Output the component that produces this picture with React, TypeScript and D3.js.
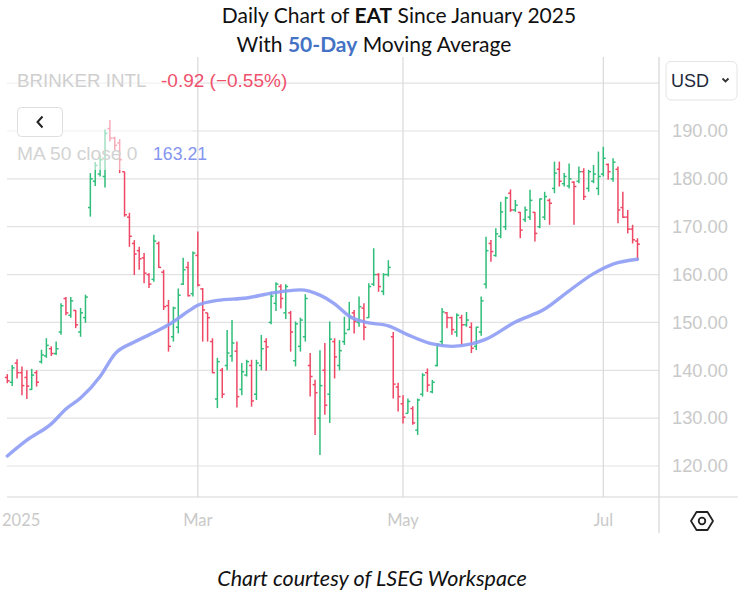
import React from 'react';
import * as d3 from 'd3';

// ---- trading calendar (x categories) ----
const firstDay = '2025-01-02';
const lastDay = '2025-07-11';
const holidays = ['2025-01-09', '2025-01-20', '2025-02-17', '2025-04-18', '2025-05-26', '2025-06-19', '2025-07-04'];
const fmt = d3.utcFormat('%Y-%m-%d');
const dates: string[] = d3.utcDay
  .range(new Date(firstDay + 'T00:00:00Z'), d3.utcDay.offset(new Date(lastDay + 'T00:00:00Z'), 1))
  .filter((d) => d.getUTCDay() !== 0 && d.getUTCDay() !== 6 && !holidays.includes(fmt(d)))
  .map(fmt);

// ---- OHLC series ----
const open = [
  138.5, 137.5, 141.5, 139.5, 138.5, 136.0, 139.5, 141.8, 143.0, 144.5,
  143.5, 148.0, 155.0, 151.5, 152.5, 148.0, 151.0, 174.0, 179.5, 181.0,
  180.5, 190.5, 188.5, 187.5, 181.5, 172.0, 166.5, 165.0, 163.5, 160.0,
  159.0, 166.5, 160.5, 153.5, 147.0, 149.0, 158.0, 161.5, 156.0, 164.0,
  157.0, 152.0, 146.0, 134.0, 140.0, 141.0, 143.0, 144.0, 136.0, 139.0,
  141.0, 135.0, 141.0, 146.0, 150.0, 154.0, 157.5, 152.0, 152.0, 142.0,
  145.0, 147.0, 141.0, 137.0, 130.0, 140.0, 135.0, 146.0, 141.0, 146.0,
  148.5, 152.0, 150.0, 153.0, 151.0, 158.0, 160.0, 156.5, 160.0, 147.0,
  136.5, 133.0, 131.0, 132.0, 127.5, 135.0, 139.5, 135.5, 141.0, 146.0,
  152.0, 151.0, 148.0, 151.0, 149.5, 149.0, 145.0, 148.0, 158.0, 166.5,
  164.0, 168.0, 170.0, 177.0, 173.5, 173.0, 171.5, 172.0, 173.0, 170.0,
  172.0, 175.5, 178.0, 182.0, 179.0, 178.5, 179.3, 179.5, 181.5, 178.0,
  179.5, 178.0, 181.0, 183.0, 180.0, 182.0, 174.0, 172.0, 169.5, 167.0,
];
const high = [
  139.2, 141.1, 142.3, 140.8, 140.0, 140.3, 140.0, 144.3, 146.7, 145.0,
  146.0, 154.0, 155.3, 155.3, 152.6, 153.0, 155.8, 181.2, 183.5, 185.0,
  190.3, 192.3, 188.8, 188.3, 181.5, 172.9, 167.2, 165.8, 164.5, 160.3,
  168.3, 166.9, 161.0, 154.7, 153.3, 157.1, 163.5, 162.7, 164.8, 169.0,
  157.2, 152.0, 146.7, 142.6, 140.5, 148.4, 150.5, 146.0, 141.5, 142.2,
  142.2, 142.2, 147.4, 146.7, 156.4, 158.4, 158.0, 158.0, 152.4, 150.2,
  151.0, 155.9, 143.6, 138.0, 144.2, 145.7, 150.2, 146.7, 146.3, 151.2,
  154.3, 152.6, 155.4, 154.0, 158.2, 165.5, 160.3, 160.3, 163.0, 148.0,
  137.4, 134.8, 134.1, 132.5, 134.1, 139.4, 140.4, 138.0, 145.6, 153.0,
  152.2, 151.2, 151.9, 151.6, 152.2, 150.0, 149.1, 155.4, 167.9, 167.2,
  169.7, 175.2, 176.3, 177.8, 175.6, 173.1, 174.2, 177.7, 173.1, 175.9,
  177.3, 175.9, 183.6, 183.6, 181.2, 183.2, 179.5, 182.6, 182.2, 181.9,
  182.9, 185.7, 186.7, 183.2, 184.3, 182.6, 177.3, 173.5, 170.4, 167.6,
];
const low = [
  137.3, 136.7, 138.3, 134.8, 134.0, 135.9, 136.6, 141.4, 142.6, 143.0,
  143.2, 147.4, 151.5, 151.0, 148.8, 147.0, 149.9, 172.1, 178.5, 180.5,
  178.2, 187.8, 186.0, 181.2, 172.1, 165.8, 159.9, 161.0, 158.2, 157.2,
  158.5, 161.4, 152.6, 143.9, 146.0, 147.7, 157.8, 155.4, 155.4, 157.5,
  146.0, 146.0, 139.4, 132.1, 134.2, 140.0, 141.8, 132.2, 134.8, 138.7,
  132.4, 133.8, 140.0, 139.9, 149.6, 152.4, 152.9, 150.7, 143.9, 140.8,
  143.9, 146.0, 134.5, 126.5, 122.3, 130.7, 129.0, 138.3, 140.0, 145.3,
  148.4, 147.7, 149.1, 146.3, 150.9, 157.6, 156.4, 155.7, 159.6, 134.1,
  131.4, 128.9, 131.0, 128.6, 126.5, 134.5, 135.5, 135.2, 140.8, 145.3,
  148.8, 147.4, 147.0, 145.3, 149.1, 143.6, 144.2, 147.2, 157.1, 162.7,
  163.7, 167.6, 169.3, 173.1, 173.1, 167.6, 171.0, 171.4, 166.9, 169.7,
  171.4, 170.4, 177.0, 178.4, 178.4, 178.0, 170.4, 179.1, 175.6, 177.3,
  179.1, 176.6, 180.5, 179.8, 179.4, 170.7, 171.8, 168.6, 166.5, 163.0,
];
const close = [
  137.8, 140.5, 139.5, 136.8, 136.7, 139.0, 137.5, 143.2, 145.2, 143.5,
  144.5, 153.5, 152.0, 154.5, 149.5, 152.0, 155.3, 180.0, 182.8, 184.0,
  189.5, 188.5, 187.0, 184.0, 172.5, 168.0, 164.3, 163.3, 160.3, 158.0,
  167.0, 161.5, 153.3, 145.0, 153.0, 155.7, 161.0, 155.6, 164.5, 157.8,
  152.6, 151.0, 139.5, 141.8, 135.0, 143.6, 145.7, 134.5, 139.7, 141.8,
  133.6, 141.5, 144.5, 144.9, 155.5, 158.0, 155.0, 157.5, 148.0, 149.7,
  150.5, 155.0, 138.7, 135.3, 136.8, 132.7, 146.5, 142.8, 144.1, 147.7,
  151.2, 150.2, 153.3, 149.0, 157.5, 160.0, 157.5, 160.0, 161.5, 137.1,
  134.5, 130.2, 133.5, 129.0, 133.8, 139.0, 136.9, 137.5, 145.4, 152.2,
  151.0, 148.5, 151.5, 149.5, 150.5, 144.6, 149.0, 154.5, 165.0, 164.8,
  168.5, 173.1, 176.0, 173.5, 174.5, 169.3, 173.5, 175.5, 168.6, 175.8,
  176.3, 174.9, 181.2, 179.5, 180.5, 180.0, 178.4, 181.5, 176.3, 181.5,
  181.0, 180.5, 184.3, 181.5, 183.5, 173.5, 172.0, 169.5, 167.27, 166.35,
];

// ---- 50-day moving average, sampled at bar indices ----
const maIdx = [0, 4, 9, 12, 15, 19, 22, 26, 29, 33, 36, 39, 43, 49, 54, 60, 64, 67, 70, 73, 78, 82, 87, 91, 95, 98, 104, 110, 115, 120, 124, 129];
const maVal = [122.1, 125.4, 128.8, 131.9, 134.2, 138.7, 143.4, 145.9, 147.4, 149.5, 151.6, 153.6, 154.6, 155.1, 156.1, 156.8, 155.7, 153.9, 151.3, 150.1, 149.3, 147.4, 145.5, 145.0, 145.5, 146.5, 150.1, 152.8, 156.6, 160.2, 162.2, 163.21];

// ---- axes ----
const gridValues = [200, 190, 180, 170, 160, 150, 140, 130, 120];
const yTickValues = [190, 180, 170, 160, 150, 140, 130, 120];
const xTickLabels = ['2025', 'Mar', 'May', 'Jul'];
const xTickMonths = ['2025-01', '2025-03', '2025-05', '2025-07'];

const legendName = 'BRINKER INTL';
const legendChange = '-0.92 (\u22120.55%)';
const maLabel = 'MA 50 close 0';
const maLast = '163.21';

const GREEN = '#2fbd79';
const RED = '#ee4865';
const MA_COLOR = '#8d9cf4';
const GRID = '#e2e2e2';
const AXIS_TXT = '#c9c9c9';

export default function App() {
  const plotL = 7;
  const plotR = 659;
  const plotT = 57;
  const plotB = 497;

  const x = d3.scalePoint<string>().domain(dates).range([7.3, 637.5]);
  const y = d3.scaleLinear().domain([120, 190]).range([466, 131]);

  const maLine = d3
    .line<number>()
    .x((_, k) => x(dates[maIdx[k]]) as number)
    .y((v) => y(v))
    .curve(d3.curveMonotoneX);

  const tick = 2.4;
  const xTicks = xTickMonths.map((m, k) => ({
    label: xTickLabels[k],
    pos: x(dates.find((d) => d.startsWith(m)) as string) as number,
  }));

  const sans = '"Liberation Sans", Arial, sans-serif';
  const human = 'Lato, "Open Sans", sans-serif';

  return (
    <svg
      width={743}
      height={596}
      viewBox="0 0 743 596"
      style={{ position: 'absolute', left: 0, top: 0, background: '#fff' }}
    >
      <rect x={0} y={0} width={743} height={596} fill="#fff" />

      {/* title */}
      <text x={399} y={23} textAnchor="middle" fontFamily={human} fontSize={21} fill="#111">
        Daily Chart of <tspan fontWeight="bold">EAT</tspan> Since January 2025
      </text>
      <text x={374} y={52} textAnchor="middle" fontFamily={human} fontSize={21} fill="#111">
        With <tspan fontWeight="bold" fill="#4472c4">50-Day</tspan> Moving Average
      </text>

      {/* grid */}
      {gridValues.map((v) => (
        <line key={'g' + v} x1={plotL} x2={plotR} y1={y(v)} y2={y(v)} stroke={GRID} strokeWidth={1.2} />
      ))}
      {xTicks.slice(1).map((t) => (
        <line key={'v' + t.label} x1={t.pos} x2={t.pos} y1={plotT} y2={plotB} stroke="#d9d9d9" strokeWidth={1.2} />
      ))}

      {/* OHLC bars */}
      {dates.map((d, i) => {
        const cx = x(d) as number;
        const col = close[i] >= open[i] ? GREEN : RED;
        return (
          <g key={d} stroke={col} strokeWidth={1.5}>
            <line x1={cx} x2={cx} y1={y(high[i])} y2={y(low[i])} />
            <line x1={cx - tick} x2={cx} y1={y(open[i])} y2={y(open[i])} />
            <line x1={cx} x2={cx + tick} y1={y(close[i])} y2={y(close[i])} />
          </g>
        );
      })}

      {/* moving average */}
      <path d={maLine(maVal) as string} fill="none" stroke={MA_COLOR} strokeWidth={3.4} strokeOpacity={0.9} strokeLinecap="round" />

      {/* legend veil */}
      <rect x={plotL} y={62} width={185} height={108} fill="#fff" opacity={0.55} />

      {/* legend */}
      <text x={17} y={86.5} fontFamily={sans} fontSize={18.8} fill="#cfcfcf">
        {legendName}
      </text>
      <text x={161} y={86.5} fontFamily={sans} fontSize={19} fill="#ef516d">
        {legendChange}
      </text>
      <rect x={17.5} y={107.5} width={45} height={29} rx={4} fill="#fff" stroke="#dedede" strokeWidth={1} />
      <path d="M42.5,116.5 L37.5,122 L42.5,127.5" fill="none" stroke="#222" strokeWidth={2} />
      <text x={17} y={160} fontFamily={sans} fontSize={19.2} fill="#d3d3d3">
        {maLabel}
      </text>
      <text x={153} y={160} fontFamily={sans} fontSize={17.7} fill="#8595f0">
        {maLast}
      </text>

      {/* right axis */}
      <line x1={plotR} x2={plotR} y1={plotT} y2={533} stroke="#d6d6d6" strokeWidth={1.2} />
      <line x1={plotL} x2={738} y1={plotB} y2={plotB} stroke="#d6d6d6" strokeWidth={1.2} />
      {yTickValues.map((v) => (
        <text key={'t' + v} x={672} y={y(v) + 6.3} fontFamily={sans} fontSize={18.3} fill={AXIS_TXT}>
          {v.toFixed(2)}
        </text>
      ))}

      {/* USD button */}
      <rect x={666} y={61.5} width={71} height={38.5} rx={5} fill="#fff" stroke="#e4e4e4" strokeWidth={1} />
      <text x={671} y={87} fontFamily={sans} fontSize={18} fill="#1e2a3a">
        USD
      </text>
      <path d="M722.5,78.5 L725.5,81.5 L728.5,78.5" fill="none" stroke="#333" strokeWidth={1.8} />

      {/* x labels */}
      {xTicks.map((t, k) => (
        <text
          key={'x' + t.label}
          x={k === 0 ? 2 : t.pos}
          y={526}
          textAnchor={k === 0 ? 'start' : 'middle'}
          fontFamily={human}
          fontSize={16.5}
          fill={AXIS_TXT}
        >
          {t.label}
        </text>
      ))}

      {/* settings icon */}
      <path
        d="M691,521 L696.5,512 L707.5,512 L713,521 L707.5,530 L696.5,530 Z"
        fill="none"
        stroke="#222"
        strokeWidth={1.8}
        strokeLinejoin="round"
      />
      <circle cx={702} cy={521} r={3.3} fill="none" stroke="#222" strokeWidth={1.8} />

      {/* footer */}
      <text x={372} y={586} textAnchor="middle" fontFamily={human} fontSize={21.5} fontStyle="italic" fill="#111">
        Chart courtesy of LSEG Workspace
      </text>
    </svg>
  );
}
